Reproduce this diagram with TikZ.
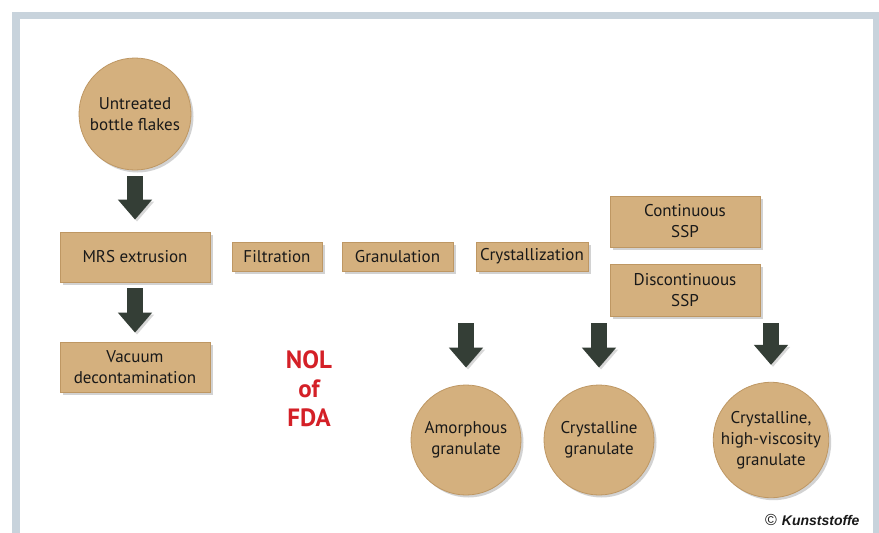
\documentclass[tikz,border=0pt]{standalone}
\usepackage{fontspec}
\setmainfont{PT Sans}
\newfontfamily\kfont{Liberation Sans}
\usetikzlibrary{shadows,arrows.meta}
\definecolor{tanfill}{HTML}{D4B07E}
\definecolor{tanedge}{HTML}{BE9763}
\definecolor{framecol}{HTML}{C8D3DC}
\definecolor{arrcol}{HTML}{343E36}
\definecolor{nolred}{HTML}{D42027}
\begin{document}
\begin{tikzpicture}[x=1pt,y=-1pt,
 box/.style={draw=tanedge, line width=0.8pt, fill=tanfill, align=center, inner sep=0pt,
   drop shadow={shadow xshift=2.5pt,shadow yshift=-2.5pt,opacity=0.35},
   font=\fontsize{17}{21}\selectfont, text=black!90},
 disc/.style={box, circle},
 bigarrow/.style={draw=arrcol, line width=16pt, -{Triangle[width=33pt,length=20pt]},
   preaction={draw=black!60, opacity=0.25, transform canvas={shift={(2pt,-2pt)}}}},
]
\useasboundingbox (0,0) rectangle (879,533);
\fill[framecol] (12,12) rectangle (879,533);
\fill[white] (20,19) rectangle (873,533);

\node[disc, minimum size=112pt] (flakes) at (135,114) {Untreated\\bottle flakes};
\node[box, minimum width=150pt, minimum height=50pt] (mrs) at (135,257) {MRS extrusion};
\node[box, minimum width=150pt, minimum height=50pt] (vac) at (135,367) {Vacuum\\decontamination};
\node[box, minimum width=90pt, minimum height=29pt] (filt) at (277,256.5) {Filtration};
\node[box, minimum width=111pt, minimum height=29pt] (gran) at (397.5,256.5) {Granulation};
\node[box, minimum width=112pt, minimum height=29pt] (cryst) at (532,256.5) {Crystallization};
\node[box, minimum width=150pt, minimum height=51pt] (cssp) at (685,221.5) {Continuous\\SSP};
\node[box, minimum width=150pt, minimum height=52pt] (dssp) at (685,290) {Discontinuous\\SSP};

\node[disc, minimum size=110pt] (amor) at (466,440) {Amorphous\\granulate};
\node[disc, minimum size=110pt] (cgran) at (599,440) {Crystalline\\granulate};
\node[disc, minimum size=112pt] (hv) at (771,440) {Crystalline,\\high-viscosity\\granulate};

\node[text=nolred, font=\fontsize{25}{29}\selectfont\bfseries, align=center] (nol) at (309,389) {NOL\\of\\FDA};
\node[anchor=east, font=\kfont\fontsize{14}{16}\selectfont, text=black!90] (ks) at (863,520) {{\fontsize{16}{16}\selectfont ©}\hspace{5pt}\textbf{\textit{Kunststoffe}}};

\coordinate (t1) at (466,323);
\coordinate (t2) at (599,323);
\coordinate (t3) at (771,323);

\draw[bigarrow, shorten <=6pt, shorten >=12pt] (flakes.south) -- (mrs.north);
\draw[bigarrow, shorten <=6pt, shorten >=9pt] (mrs.south) -- (vac.north);
\draw[bigarrow, shorten >=17pt] (t1) -- (amor.north);
\draw[bigarrow, shorten >=17pt] (t2) -- (cgran.north);
\draw[bigarrow, shorten >=17pt] (t3) -- (hv.north);
\end{tikzpicture}
\end{document}
